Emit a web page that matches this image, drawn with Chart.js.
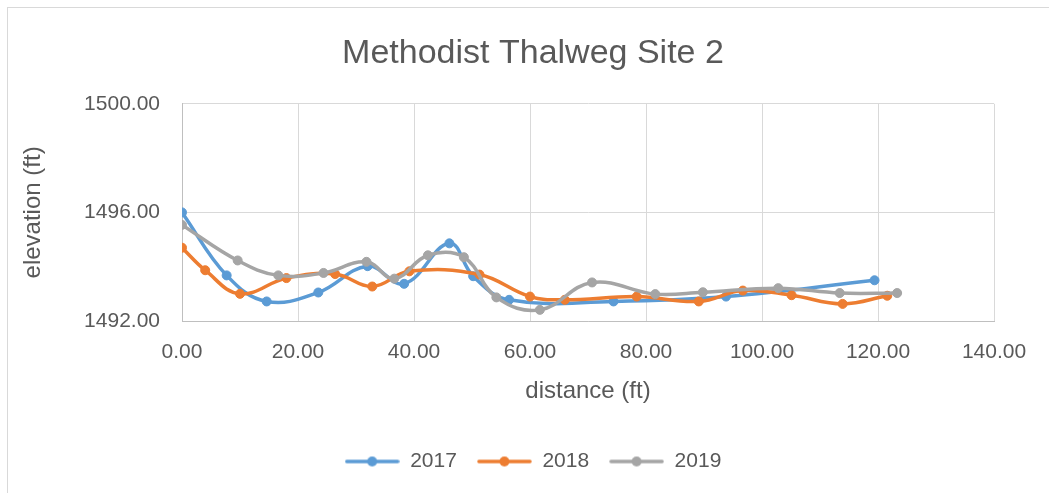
<!DOCTYPE html>
<html>
<head>
<meta charset="utf-8">
<script src="https://cdn.jsdelivr.net/npm/chart.js@4/dist/chart.umd.min.js"></script>
<style>
  html, body { margin: 0; padding: 0; background: #fff; }
  #wrap { width: 1049px; height: 493px; }
</style>
</head>
<body>
<div id="wrap"><canvas id="myChart" width="1049" height="493"></canvas></div>
<script>
// values
let years = ['2017', '2018', '2019'];
let colors = ['#5B9BD5', '#ED7D31', '#A5A5A5'];

let dist2017 = [0, 7.7, 14.6, 23.5, 32.0, 38.3, 46.1, 50.2, 56.4, 74.4, 93.8, 119.4];
let elev2017 = [1496.00, 1493.68, 1492.72, 1493.05, 1494.02, 1493.37, 1494.86, 1493.65, 1492.78, 1492.72, 1492.90, 1493.50];

let dist2018 = [0, 4.0, 10.0, 18.0, 26.4, 32.8, 39.2, 51.3, 60.0, 66.0, 78.4, 89.1, 96.7, 105.1, 113.9, 121.6];
let elev2018 = [1494.70, 1493.87, 1493.00, 1493.58, 1493.73, 1493.27, 1493.83, 1493.71, 1492.90, 1492.78, 1492.90, 1492.72, 1493.12, 1492.95, 1492.63, 1492.93];

let dist2019 = [0, 9.6, 16.6, 24.4, 31.8, 36.6, 42.4, 48.6, 54.2, 61.7, 70.7, 81.6, 89.8, 102.8, 113.4, 123.3];
let elev2019 = [1495.54, 1494.23, 1493.68, 1493.77, 1494.18, 1493.56, 1494.42, 1494.35, 1492.87, 1492.41, 1493.42, 1492.99, 1493.06, 1493.21, 1493.03, 1493.03];

let xTicks = [0, 20, 40, 60, 80, 100, 120, 140];
let yTicks = [1492, 1496, 1500];

const font = "'Liberation Sans', Arial, sans-serif";
const textColor = '#595959';

function toPoints(xs, ys) {
  return xs.map((x, i) => ({ x: x, y: ys[i] }));
}

function legendIcon(color) {
  const c = document.createElement('canvas');
  c.width = 55;
  c.height = 12;
  const g = c.getContext('2d');
  g.strokeStyle = color;
  g.lineWidth = 3.5;
  g.lineCap = 'round';
  g.beginPath();
  g.moveTo(2, 6);
  g.lineTo(53, 6);
  g.stroke();
  g.fillStyle = color;
  g.beginPath();
  g.arc(27.5, 6, 5, 0, Math.PI * 2);
  g.fill();
  return c;
}

let series = [toPoints(dist2017, elev2017), toPoints(dist2018, elev2018), toPoints(dist2019, elev2019)];

let datasets = years.map((yr, i) => ({
  label: yr,
  data: series[i],
  showLine: true,
  borderColor: colors[i],
  backgroundColor: colors[i],
  pointBackgroundColor: colors[i],
  pointBorderColor: colors[i],
  borderWidth: 3.5,
  pointRadius: 4.5,
  pointBorderWidth: 1,
  tension: 0.4,
  order: years.length - i
}));

const outerBorder = {
  id: 'outerBorder',
  beforeDraw(chart) {
    const ctx = chart.ctx;
    ctx.save();
    ctx.fillStyle = '#fff';
    ctx.fillRect(0, 0, chart.width, chart.height);
    ctx.strokeStyle = '#D9D9D9';
    ctx.lineWidth = 1;
    ctx.strokeRect(7.5, 7.5, 1100, 600);
    ctx.restore();
  }
};

let ctx = document.getElementById('myChart').getContext('2d');

let chart = new Chart(ctx, {
  type: 'scatter',
  data: { datasets: datasets },
  plugins: [outerBorder],
  options: {
    responsive: false,
    animation: false,
    layout: { padding: { left: 72, right: 55, top: 0, bottom: 11 } },
    scales: {
      x: {
        type: 'linear',
        min: 0,
        max: 140,
        afterBuildTicks: s => { s.ticks = xTicks.map(v => ({ value: v })); },
        afterFit: s => { s.height = 110; },
        ticks: {
          padding: 19,
          color: textColor,
          font: { family: font, size: 21 },
          callback: v => v.toFixed(2)
        },
        grid: { color: '#D9D9D9', drawTicks: false },
        border: { color: '#BFBFBF', width: 1 },
        title: {
          display: true,
          text: 'distance (ft)',
          color: textColor,
          font: { family: font, size: 24 },
          padding: { top: 25, bottom: 25 }
        }
      },
      y: {
        min: 1492,
        max: 1500,
        afterBuildTicks: s => { s.ticks = yTicks.map(v => ({ value: v })); },
        afterFit: s => { s.width = 110; },
        ticks: {
          padding: 22,
          color: textColor,
          font: { family: font, size: 21 },
          callback: v => v.toFixed(2)
        },
        grid: { color: '#D9D9D9', drawTicks: false },
        border: { color: '#BFBFBF', width: 1 },
        title: {
          display: true,
          text: 'elevation (ft)',
          color: textColor,
          font: { family: font, size: 24 },
          padding: { top: -53, bottom: 0 }
        }
      }
    },
    plugins: {
      title: {
        display: true,
        text: 'Methodist Thalweg Site 2',
        color: textColor,
        font: { family: font, size: 34, weight: 'normal' },
        padding: { top: 33, bottom: 30 }
      },
      legend: {
        position: 'bottom',
        labels: {
          color: textColor,
          font: { family: font, size: 21 },
          usePointStyle: true,
          pointStyleWidth: 55,
          padding: 20,
          sort: (a, b) => a.datasetIndex - b.datasetIndex,
          generateLabels: c => {
            const items = Chart.defaults.plugins.legend.labels.generateLabels(c);
            items.forEach(it => { it.pointStyle = legendIcon(colors[it.datasetIndex]); });
            return items;
          }
        }
      },
      tooltip: { enabled: false }
    }
  }
});
</script>
</body>
</html>
